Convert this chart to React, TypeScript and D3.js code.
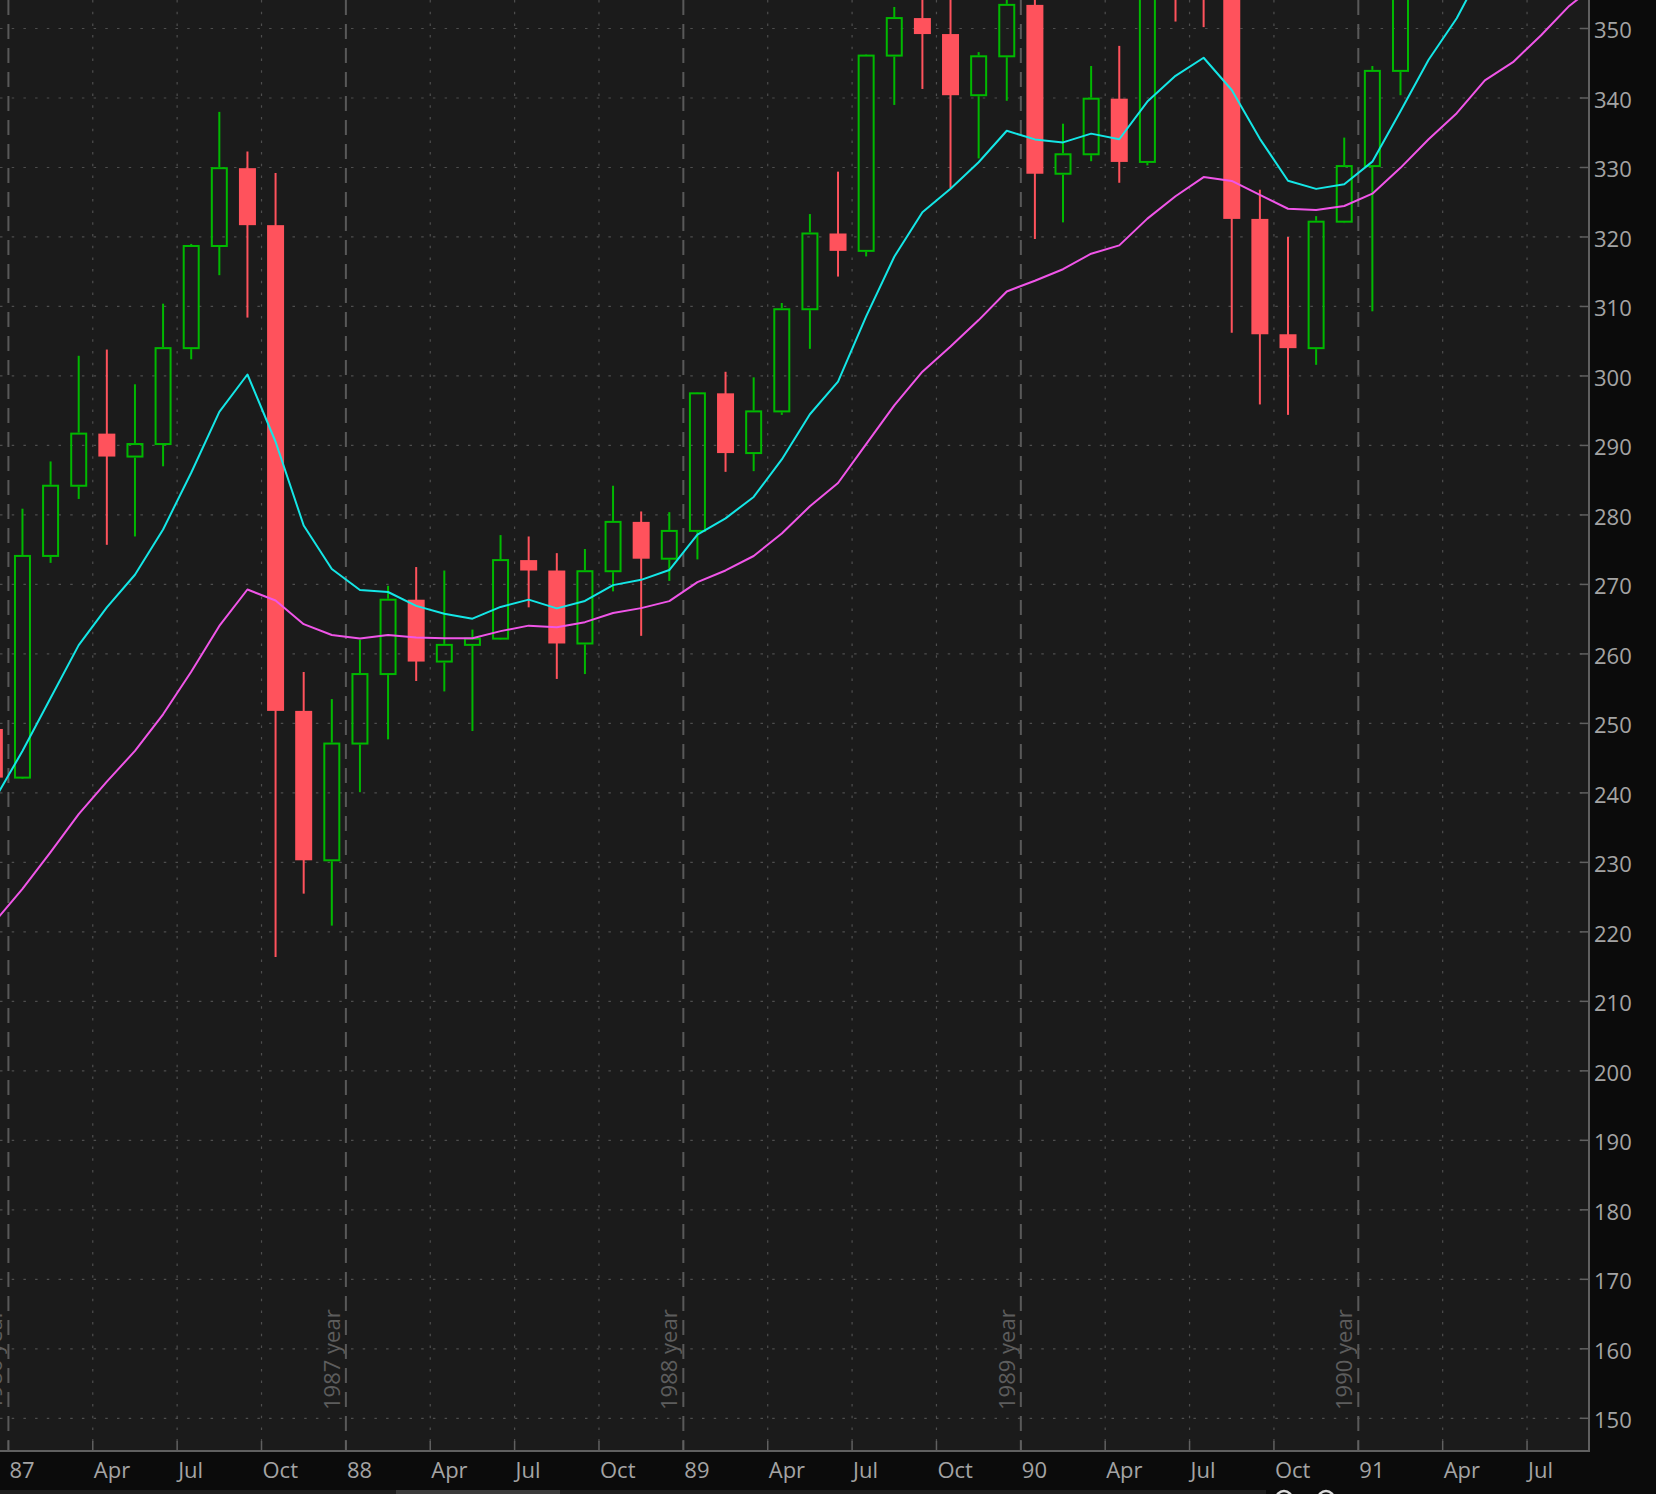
import React from "react";
import * as d3 from "d3";

const W = 1656;
const H = 1494;
const PLOT_R = 1589;
const PLOT_B = 1451;

// Monthly bars, Dec 1986 .. Sep 1991
const months = [
  "1986-12",
  "1987-01", "1987-02", "1987-03", "1987-04", "1987-05", "1987-06", "1987-07", "1987-08", "1987-09", "1987-10", "1987-11", "1987-12",
  "1988-01", "1988-02", "1988-03", "1988-04", "1988-05", "1988-06", "1988-07", "1988-08", "1988-09", "1988-10", "1988-11", "1988-12",
  "1989-01", "1989-02", "1989-03", "1989-04", "1989-05", "1989-06", "1989-07", "1989-08", "1989-09", "1989-10", "1989-11", "1989-12",
  "1990-01", "1990-02", "1990-03", "1990-04", "1990-05", "1990-06", "1990-07", "1990-08", "1990-09", "1990-10", "1990-11", "1990-12",
  "1991-01", "1991-02", "1991-03", "1991-04", "1991-05", "1991-06", "1991-07", "1991-08", "1991-09",
];

const openV = [
  249.2,
  242.2, 274.1, 284.2, 291.7, 288.4, 290.2, 304.0, 318.7, 329.9, 321.7, 251.8, 230.3,
  247.1, 257.1, 267.8, 258.9, 261.3, 262.2, 273.5, 272.0, 261.5, 271.9, 279.0, 273.7,
  277.7, 297.5, 288.9, 294.9, 309.6, 320.5, 318.0, 346.1, 351.5, 349.2, 340.4, 346.0,
  353.4, 329.1, 331.9, 339.9, 330.8, 361.2, 358.0, 356.2, 322.6, 306.0, 304.0, 322.2,
  330.2, 343.9, 367.1, 375.2, 375.3, 389.8, 371.2, 387.8, 395.4,
];
const highV = [
  254.9,
  280.9, 287.7, 302.9, 303.8, 298.8, 310.4, 319.0, 338.0, 332.3, 329.2, 257.4, 253.5,
  262.0, 269.8, 272.5, 272.0, 263.5, 277.1, 276.9, 274.5, 275.1, 284.2, 280.5, 280.4,
  297.6, 300.6, 299.8, 310.5, 323.3, 329.4, 346.3, 353.1, 354.8, 360.4, 346.6, 357.0,
  360.6, 336.3, 344.6, 347.5, 363.0, 367.9, 369.8, 361.0, 326.8, 320.0, 323.0, 334.3,
  344.6, 370.5, 376.7, 384.0, 391.0, 392.0, 391.0, 396.0, 397.0,
];
const lowV = [
  240.9,
  242.2, 273.1, 282.3, 275.7, 276.9, 287.0, 302.4, 314.5, 308.4, 216.4, 225.5, 220.9,
  240.1, 247.7, 256.1, 254.6, 248.9, 262.0, 266.7, 256.4, 257.1, 269.0, 262.6, 270.5,
  273.6, 286.2, 286.3, 294.4, 303.9, 314.3, 317.2, 339.0, 341.3, 327.0, 331.3, 339.6,
  319.7, 322.1, 330.9, 327.8, 330.3, 351.0, 350.2, 306.2, 295.9, 294.4, 301.6, 322.0,
  309.3, 340.4, 362.6, 369.0, 370.0, 367.0, 370.0, 378.0, 383.0,
];
const closeV = [
  242.2,
  274.1, 284.2, 291.7, 288.4, 290.2, 304.0, 318.7, 329.9, 321.7, 251.8, 230.3, 247.1,
  257.1, 267.8, 258.9, 261.3, 262.2, 273.5, 272.0, 261.5, 271.9, 279.0, 273.7, 277.7,
  297.5, 288.9, 294.9, 309.6, 320.5, 318.0, 346.1, 351.5, 349.2, 340.4, 346.0, 353.4,
  329.1, 331.9, 339.9, 330.8, 361.2, 358.0, 356.2, 322.6, 306.0, 304.0, 322.2, 330.2,
  343.9, 367.1, 375.2, 375.3, 389.8, 371.2, 387.8, 395.4, 387.9,
];

// Moving averages (cyan fast, magenta slow)
const fastMA = [
  239.0,
  246.02, 253.66, 261.26, 266.69, 271.39, 277.91, 286.07, 294.84, 300.21, 290.53, 278.48, 272.21,
  269.19, 268.91, 266.91, 265.79, 265.07, 266.76, 267.81, 266.55, 267.62, 269.9, 270.66, 272.07,
  277.16, 279.51, 282.59, 287.99, 294.49, 299.19, 308.57, 317.16, 323.57, 326.94, 330.75, 335.28,
  334.04, 333.61, 334.87, 334.06, 339.49, 343.19, 345.79, 341.15, 334.12, 328.1, 326.92, 327.58,
  330.84, 338.09, 345.51, 351.47, 359.14, 361.55, 366.8, 372.52, 375.6,
];
const slowMA = [
  221.4,
  226.19, 231.46, 236.94, 241.62, 246.04, 251.31, 257.44, 264.02, 269.27, 267.68, 264.28, 262.72,
  262.21, 262.72, 262.37, 262.27, 262.26, 263.28, 264.07, 263.84, 264.57, 265.88, 266.59, 267.6,
  270.32, 272.01, 274.09, 277.32, 281.25, 284.59, 290.18, 295.76, 300.62, 304.24, 308.04, 312.16,
  313.7, 315.36, 317.59, 318.79, 322.64, 325.86, 328.62, 328.07, 326.06, 324.06, 323.89, 324.46,
  326.23, 329.95, 334.06, 337.81, 342.54, 345.15, 349.03, 353.25, 356.4,
];

// Axis ticks (month where the tick sits, label)
const xTickMonths = [
  "1987-01", "1987-04", "1987-07", "1987-10",
  "1988-01", "1988-04", "1988-07", "1988-10",
  "1989-01", "1989-04", "1989-07", "1989-10",
  "1990-01", "1990-04", "1990-07", "1990-10",
  "1991-01", "1991-04", "1991-07",
];
const xTickLabels = [
  "87", "Apr", "Jul", "Oct",
  "88", "Apr", "Jul", "Oct",
  "89", "Apr", "Jul", "Oct",
  "90", "Apr", "Jul", "Oct",
  "91", "Apr", "Jul",
];
const yearLineMonths = ["1987-01", "1988-01", "1989-01", "1990-01", "1991-01"];
const yearLabels = ["1986 year", "1987 year", "1988 year", "1989 year", "1990 year"];
const yTickValues = [150, 160, 170, 180, 190, 200, 210, 220, 230, 240, 250, 260, 270, 280, 290, 300, 310, 320, 330, 340, 350];

const GREEN = "#00b900";
const RED = "#ff525c";
const CYAN = "#14e6e6";
const MAGENTA = "#f055e8";
const GRID = "#4e4e4e";
const YEARLINE = "#595959";
const AXIS = "#606060";
const LABEL = "#a4a4a4";
const FONT = "'Open Sans', 'Noto Sans', sans-serif";

export default function App() {
  const STEP = 28.123;
  const x0 = -5.66;
  const x = d3.scaleLinear().domain([0, months.length - 1]).range([x0, x0 + STEP * (months.length - 1)]);
  const y = d3.scaleLinear().domain([150, 350]).range([1418.3, 28.5]);
  const half = STEP / 2;
  const bw = 17;

  const lineGen = d3
    .line<number>()
    .x((_, i) => x(i))
    .y((d) => y(d));

  const boundary = (m: string) => x(months.indexOf(m)) - half;

  return (
    <svg
      width={W}
      height={H}
      style={{ position: "absolute", left: 0, top: 0, display: "block" }}
      xmlns="http://www.w3.org/2000/svg"
    >
      <defs>
        <clipPath id="plotClip">
          <rect x={0} y={0} width={PLOT_R} height={PLOT_B} />
        </clipPath>
      </defs>
      <rect x={0} y={0} width={W} height={H} fill="#0b0b0b" />
      <rect x={0} y={0} width={PLOT_R} height={PLOT_B} fill="#1b1b1b" />

      <g clipPath="url(#plotClip)">
        {/* horizontal dotted grid */}
        {yTickValues.map((v) => (
          <line
            key={"hg" + v}
            x1={0}
            x2={PLOT_R}
            y1={y(v)}
            y2={y(v)}
            stroke={GRID}
            strokeWidth={1.2}
            strokeDasharray="2.5,9.2"
          />
        ))}
        {/* vertical dotted grid at quarters */}
        {xTickMonths.map((m, k) =>
          yearLineMonths.includes(m) ? null : (
            <line
              key={"vg" + k}
              x1={boundary(m)}
              x2={boundary(m)}
              y1={0}
              y2={PLOT_B}
              stroke={GRID}
              strokeWidth={1.2}
              strokeDasharray="2.5,9.2"
            />
          )
        )}
        {/* year dashed lines */}
        {yearLineMonths.map((m) => (
          <line
            key={"yl" + m}
            x1={boundary(m)}
            x2={boundary(m)}
            y1={0}
            y2={PLOT_B}
            stroke={YEARLINE}
            strokeWidth={2}
            strokeDasharray="15,9"
          />
        ))}
        {/* year labels */}
        {yearLineMonths.map((m, k) => {
          const bx = boundary(m) - 6;
          const by = 1410;
          return (
            <text
              key={"ylab" + m}
              x={0}
              y={0}
              transform={`translate(${bx},${by}) rotate(-90)`}
              fill="#5d5d5d"
              fontFamily={FONT}
              fontSize={22}
            >
              {yearLabels[k]}
            </text>
          );
        })}
        {/* x tick marks */}
        {xTickMonths.map((m, k) => (
          <line
            key={"xt" + k}
            x1={boundary(m)}
            x2={boundary(m)}
            y1={PLOT_B - 10}
            y2={PLOT_B}
            stroke={AXIS}
            strokeWidth={1.5}
          />
        ))}

        {/* candles */}
        {months.map((m, i) => {
          const o = openV[i];
          const c = closeV[i];
          const hi = highV[i];
          const lo = lowV[i];
          const cx = x(i);
          const up = c >= o;
          const top = y(Math.max(o, c));
          const bot = y(Math.min(o, c));
          if (up) {
            return (
              <g key={"c" + m}>
                <line x1={cx} x2={cx} y1={y(hi)} y2={top - 1} stroke={GREEN} strokeWidth={2} />
                <line x1={cx} x2={cx} y1={bot + 1} y2={y(lo)} stroke={GREEN} strokeWidth={2} />
                <rect
                  x={cx - bw / 2 + 1}
                  y={top}
                  width={bw - 2}
                  height={Math.max(bot - top, 1)}
                  fill="none"
                  stroke={GREEN}
                  strokeWidth={2}
                />
              </g>
            );
          }
          return (
            <g key={"c" + m}>
              <line x1={cx} x2={cx} y1={y(hi)} y2={y(lo)} stroke={RED} strokeWidth={2} />
              <rect x={cx - bw / 2} y={top} width={bw} height={Math.max(bot - top, 1.5)} fill={RED} />
            </g>
          );
        })}

        {/* moving averages */}
        <path d={lineGen(slowMA) || ""} fill="none" stroke={MAGENTA} strokeWidth={2} strokeLinejoin="round" />
        <path d={lineGen(fastMA) || ""} fill="none" stroke={CYAN} strokeWidth={2} strokeLinejoin="round" />
      </g>

      {/* axes lines */}
      <line x1={PLOT_R} x2={PLOT_R} y1={0} y2={PLOT_B + 1} stroke={AXIS} strokeWidth={2} />
      <line x1={0} x2={PLOT_R + 1} y1={PLOT_B} y2={PLOT_B} stroke={AXIS} strokeWidth={2} />

      {/* y ticks and labels */}
      {yTickValues.map((v) => (
        <g key={"yt" + v}>
          <line x1={PLOT_R - 9} x2={PLOT_R} y1={y(v)} y2={y(v)} stroke={AXIS} strokeWidth={1.5} />
          <text x={1594} y={y(v) + 9.8} fill={LABEL} fontFamily={FONT} fontSize={22}>
            {v}
          </text>
        </g>
      ))}

      {/* x labels */}
      {xTickMonths.map((m, k) => (
        <text key={"xl" + k} x={boundary(m) + 1} y={1478} fill={LABEL} fontFamily={FONT} fontSize={22}>
          {xTickLabels[k]}
        </text>
      ))}

      {/* bottom scrollbar remnants */}
      <rect x={0} y={1490} width={1266} height={4} fill="#1d1d1d" />
      <rect x={396} y={1490} width={164} height={4} fill="#3a3a3a" />
      <circle cx={1284} cy={1499} r={8} fill="none" stroke="#dcdcdc" strokeWidth={2.5} />
      <circle cx={1326} cy={1499} r={8} fill="none" stroke="#dcdcdc" strokeWidth={2.5} />
    </svg>
  );
}
